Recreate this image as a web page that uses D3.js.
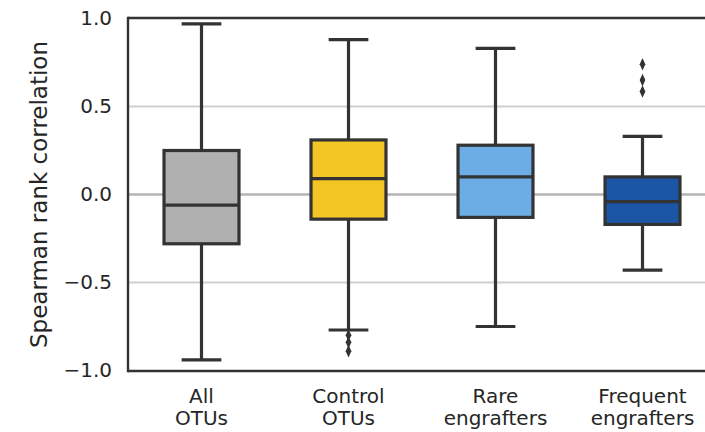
<!DOCTYPE html>
<html>
<head>
<meta charset="utf-8">
<script src="https://cdn.jsdelivr.net/npm/d3@7"></script>
<style>
  html, body { margin: 0; padding: 0; background: #fff; }
  svg { display: block; font-family: "DejaVu Sans", sans-serif; }
</style>
</head>
<body>
<svg id="chart" width="705" height="432"></svg>
<script>
// Group labels (two lines each) and box-plot summaries
const categories = [["All", "OTUs"], ["Control", "OTUs"], ["Rare", "engrafters"], ["Frequent", "engrafters"]];
const whiskerLow  = [-0.94, -0.77, -0.75, -0.43];
const q1          = [-0.28, -0.14, -0.13, -0.17];
const medians     = [-0.06,  0.09,  0.10, -0.04];
const q3          = [ 0.25,  0.31,  0.28,  0.10];
const whiskerHigh = [ 0.97,  0.88,  0.83,  0.33];
const outliers    = [[], [-0.80, -0.84, -0.89], [], [0.74, 0.65, 0.585]];
const boxColors   = ["#b0b0b0", "#f3c623", "#6badE4", "#1b56a6"];
const yTicks      = [-1.0, -0.5, 0.0, 0.5, 1.0];

const svg = d3.select("#chart");
const plot = { left: 128, top: 18.5, bottom: 370.5, right: 716 };
const edge = "#333333";
const fontSize = 20;

const keys = categories.map((c, i) => i);
const x = d3.scaleBand().domain(keys).range([plot.left, plot.right]).paddingInner(0).paddingOuter(0);
const y = d3.scaleLinear().domain([-1, 1]).range([plot.bottom, plot.top]);
const boxW = x.bandwidth() * 0.51;
const capW = boxW * 0.53;

// Horizontal grid
svg.append("g").selectAll("line").data(yTicks.filter(t => t > -1 && t < 1)).join("line")
  .attr("x1", plot.left).attr("x2", plot.right)
  .attr("y1", d => y(d)).attr("y2", d => y(d))
  .attr("stroke", d => d === 0 ? "#b5b5b5" : "#cfcfcf")
  .attr("stroke-width", d => d === 0 ? 2.6 : 1.8);

// Y axis tick labels
const yAxis = d3.axisLeft(y).tickValues(yTicks).tickSize(0).tickPadding(16)
  .tickFormat(d => d3.format(".1f")(d).replace("-", "\u2212"));
svg.append("g").attr("transform", `translate(${plot.left},0)`).call(yAxis)
  .call(g => g.select(".domain").remove())
  .selectAll("text").attr("font-size", fontSize).attr("fill", "#262626")
  .attr("font-family", "DejaVu Sans, sans-serif");

// Y axis title
svg.append("text")
  .attr("transform", `translate(47,${(plot.top + plot.bottom) / 2}) rotate(-90)`)
  .attr("text-anchor", "middle")
  .attr("font-size", 23).attr("fill", "#262626")
  .text("Spearman rank correlation");

// Boxes
const groups = svg.append("g").selectAll("g").data(keys).join("g")
  .attr("transform", d => `translate(${x(d) + x.bandwidth() / 2},0)`);

groups.append("line") // whisker
  .attr("x1", 0).attr("x2", 0)
  .attr("y1", d => y(whiskerLow[d])).attr("y2", d => y(whiskerHigh[d]))
  .attr("stroke", edge).attr("stroke-width", 3.2);

groups.selectAll(".cap").data(d => [whiskerLow[d], whiskerHigh[d]]).join("line")
  .attr("class", "cap")
  .attr("x1", -capW / 2).attr("x2", capW / 2)
  .attr("y1", v => y(v)).attr("y2", v => y(v))
  .attr("stroke", edge).attr("stroke-width", 3.2);

groups.append("rect")
  .attr("x", -boxW / 2).attr("width", boxW)
  .attr("y", d => y(q3[d])).attr("height", d => y(q1[d]) - y(q3[d]))
  .attr("fill", d => boxColors[d])
  .attr("stroke", edge).attr("stroke-width", 3.2);

groups.append("line")
  .attr("x1", -boxW / 2).attr("x2", boxW / 2)
  .attr("y1", d => y(medians[d])).attr("y2", d => y(medians[d]))
  .attr("stroke", edge).attr("stroke-width", 3.2);

const diamond = d3.symbol().type(d3.symbolDiamond).size(46);
groups.selectAll(".flier").data(d => outliers[d]).join("path")
  .attr("class", "flier")
  .attr("d", diamond)
  .attr("transform", v => `translate(0,${y(v)}) scale(0.78,1)`)
  .attr("fill", edge);

// Frame
svg.append("line").attr("x1", plot.left).attr("x2", plot.right).attr("y1", plot.top - 0.5).attr("y2", plot.top - 0.5)
  .attr("stroke", edge).attr("stroke-width", 2.4);
svg.append("line").attr("x1", plot.left).attr("x2", plot.right).attr("y1", plot.bottom + 0.5).attr("y2", plot.bottom + 0.5)
  .attr("stroke", edge).attr("stroke-width", 2.4);
svg.append("line").attr("x1", plot.left).attr("x2", plot.left).attr("y1", plot.top - 1.7).attr("y2", plot.bottom + 1.7)
  .attr("stroke", edge).attr("stroke-width", 2.4);

// Category labels
const xl = svg.append("g").selectAll("text").data(keys).join("text")
  .attr("x", d => x(d) + x.bandwidth() / 2)
  .attr("text-anchor", "middle")
  .attr("font-size", fontSize).attr("fill", "#262626");
xl.selectAll("tspan").data(d => categories[d].map((s, j) => ({ s, j, d }))).join("tspan")
  .attr("x", t => x(t.d) + x.bandwidth() / 2)
  .attr("y", t => 403 + t.j * 22)
  .text(t => t.s);
</script>
</body>
</html>
